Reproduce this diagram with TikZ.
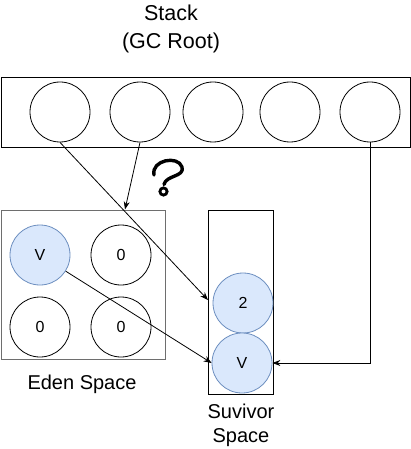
\documentclass[tikz,border=0pt]{standalone}
\usepackage{fontspec}
\setmainfont{Liberation Sans}
\usetikzlibrary{arrows.meta}
\definecolor{bfill}{HTML}{DAE8FC}
\definecolor{bdraw}{HTML}{6C8EBF}
\definecolor{edge}{HTML}{6E6E6E}
\tikzset{
  slot/.style={circle,draw=black,line width=0.8pt,minimum size=60pt,inner sep=0pt,font=\fontsize{16}{18}\selectfont},
  obj/.style={slot,draw=bdraw,fill=bfill},
  conn/.style={line width=0.8pt,-{Stealth[length=8pt,width=6pt]}},
  lbl/.style={align=center,font=\fontsize{20}{26}\selectfont}
}
\begin{document}
\begin{tikzpicture}[x=1pt,y=-1pt]
\useasboundingbox (0,0) rectangle (411,449);
% titles
\node[lbl,font=\fontsize{21.5}{28}\selectfont] (title) at (171,29) {Stack\\(GC Root)};
% stack
\node[draw,line width=0.9pt,minimum width=409pt,minimum height=70pt,inner sep=0pt] (stack) at (205.5,112) {};
\node[slot] (s1) at (60,112) {};
\node[slot] (s2) at (140,112) {};
\node[slot] (s3) at (213,112) {};
\node[slot] (s4) at (290,112) {};
\node[slot] (s5) at (370,112) {};
% eden
\node[draw=edge,line width=0.9pt,minimum width=164pt,minimum height=149pt,inner sep=0pt] (eden) at (83.5,284.5) {};
\node[obj] (ev) at (40,255) {V};
\node[slot] (e2) at (121,255) {0};
\node[slot] (e3) at (40,327) {0};
\node[slot] (e4) at (121,327) {0};
\node[lbl] (edenlbl) at (82,384) {Eden Space};
% survivor
\node[draw,line width=0.9pt,minimum width=65pt,minimum height=184pt,inner sep=0pt] (surv) at (240.5,302) {};
\node[obj] (sv2) at (243,303) {2};
\node[obj] (svv) at (242,363) {V};
\node[lbl,font=\fontsize{20}{24}\selectfont] (survlbl) at (241,425) {Suvivor\\Space};
% question mark
\draw[line width=3.4pt,line cap=round,line join=round] (154,175) .. controls (151,160) and (178,155) .. (182,167) .. controls (185,177) and (166,175) .. (164,184.5);
\draw[line width=2.8pt] (163.5,191.5) circle (3.6pt);
% connectors
\coordinate (a1) at (208,300);
\coordinate (a2) at (125,209.5);
\draw[conn] (s1.south) -- (a1);
\draw[conn] (s2.south) -- (a2);
\draw[conn] (ev) -- (svv.west);
\draw[conn] (s5.south) |- (svv.east);
\end{tikzpicture}
\end{document}
